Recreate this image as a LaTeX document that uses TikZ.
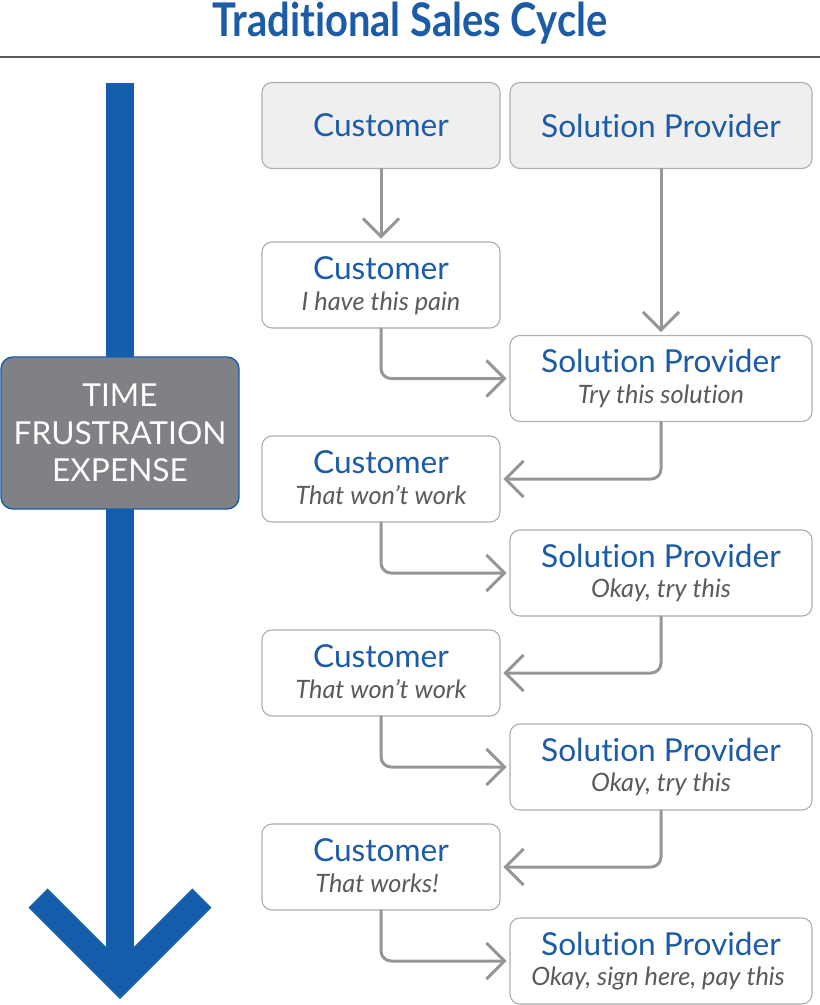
\documentclass[tikz,border=0pt]{standalone}
\usepackage{fontspec}
\setmainfont{Lato}[Ligatures=NoCommon]
\usepackage{graphicx}
\usetikzlibrary{arrows.meta}
\definecolor{cycleBlue}{RGB}{27,91,168}
\definecolor{arrowBlue}{RGB}{21,94,172}
\definecolor{lineGray}{RGB}{150,150,150}
\definecolor{boxGray}{RGB}{175,175,175}
\definecolor{headFill}{RGB}{239,239,239}
\definecolor{timeFill}{RGB}{128,129,132}
\definecolor{subGray}{RGB}{90,90,90}
\newcommand{\roleFont}{\fontsize{22.5pt}{22pt}\selectfont\color{cycleBlue}}
\newcommand{\sayFont}{\fontsize{18pt}{22pt}\selectfont\itshape\color{subGray}}

\begin{document}
\begin{tikzpicture}
[x=0.025cm, y=-0.025cm,
 lineDecorate/.style={-{Straight Barb[length=0.45cm,width=0.9cm]}, line width=0.075cm, draw=lineGray, rounded corners=0.25cm, line cap=round, line join=round, shorten >=2pt},
 nodeDecorate/.style={draw=boxGray, line width=0.8pt, rounded corners=0.25cm, fill=white, minimum height=2.15cm, align=center, inner sep=0pt},
 custDecorate/.style={nodeDecorate, minimum width=5.95cm},
 provDecorate/.style={nodeDecorate, minimum width=7.55cm}]

 \useasboundingbox (0,0) rectangle (820,1005);

 % title
 \node (title) at (410,23) {\scalebox{0.86}[1]{\fontsize{33pt}{33pt}\selectfont\bfseries\color{cycleBlue}Traditional Sales Cycle}};
 \draw[line width=1.2pt, black!65] (0,57) -- (820,57);

 % time arrow
 \draw[arrowBlue, line width=0.675cm] (120,83) -- (120,975);
 \draw[arrowBlue, line width=0.675cm, miter limit=3] (38,898) -- (120,980) -- (202,898);
 \node (time) at (120,433) [draw=arrowBlue, line width=1pt, fill=timeFill, rounded corners=0.3cm, minimum width=5.95cm, minimum height=3.8cm, align=center, text=white, font=\fontsize{22.5pt}{26.5pt}\selectfont] {TIME\\FRUSTRATION\\EXPENSE};

 % headers
 \node (HC) at (381,125.5) [custDecorate, fill=headFill] {\roleFont Customer};
 \node (HP) at (661,125.5) [provDecorate, fill=headFill] {\roleFont Solution Provider};

 \foreach \i/\y/\say in {
1/285/I have this pain,
2/479/That won’t work,
3/673/That won’t work,
4/867/That works!
 }
 {
          \node (C\i) at (381,\y) [custDecorate, text depth=2pt] {\roleFont Customer\\[7pt]\sayFont \say};
 }

 \foreach \i/\y/\say in {
1/378.5/Try this solution,
2/573/{Okay, try this},
3/767/{Okay, try this},
4/961/{Okay, sign here, pay this}
 }
 {
          \node (P\i) at (661,\y) [provDecorate] {\roleFont Solution Provider\\[7pt]\sayFont \say};
 }

 \draw[lineDecorate] (HC) -- (C1);
 \draw[lineDecorate] (HP) -- (P1);
 \foreach \i in {1,2,3,4}
 {
          \draw[lineDecorate] (C\i.south) |- (P\i.west);
 }
 \foreach \i/\j in {1/2,2/3,3/4}
 {
          \draw[lineDecorate] (P\i.south) |- (C\j.east);
 }

\end{tikzpicture}
\end{document}
